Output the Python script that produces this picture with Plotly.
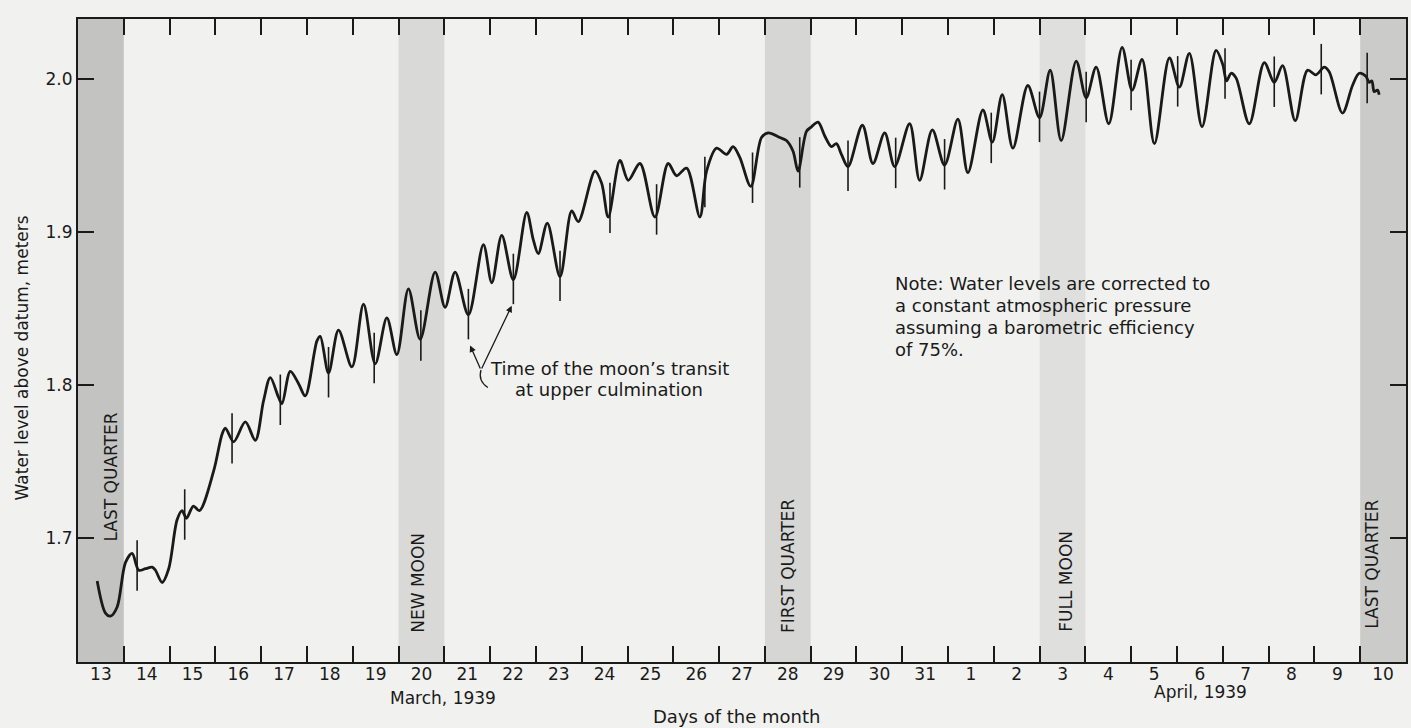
import numpy as np
import plotly.graph_objects as go

# ---------------- data (time = days elapsed since 00:00, 13 March 1939) ----------------
day_labels = ["13", "14", "15", "16", "17", "18", "19", "20", "21", "22", "23", "24", "25",
              "26", "27", "28", "29", "30", "31", "1", "2", "3", "4", "5", "6", "7", "8", "9", "10"]
day_boundaries = list(range(1, 29))
day_centers = [i + 0.5 for i in range(29)]

ytick_vals = [1.7, 1.8, 1.9, 2.0]
ytick_text = ["1.7", "1.8", "1.9", "2.0"]

# water level trace, week by week
t_week1 = [0.419, 0.600, 0.709, 0.855, 1.036, 1.182, 1.326, 1.473, 1.619, 1.691,
           1.837, 1.981, 2.164, 2.273, 2.367, 2.520, 2.651, 2.963, 3.146, 3.218,
           3.399, 3.654, 3.872, 4.053, 4.199, 4.380, 4.455, 4.636, 4.817, 4.963,
           5.218, 5.290, 5.471, 5.689, 5.982, 6.235, 6.490, 6.745, 6.963]
h_week1 = [1.672, 1.651, 1.649, 1.655, 1.684, 1.690, 1.679, 1.680, 1.681, 1.679,
           1.671, 1.680, 1.712, 1.718, 1.713, 1.721, 1.718, 1.744, 1.768, 1.772,
           1.763, 1.776, 1.764, 1.790, 1.805, 1.792, 1.788, 1.809, 1.801, 1.793,
           1.829, 1.832, 1.808, 1.836, 1.812, 1.853, 1.814, 1.844, 1.820]

t_week2 = [7.216, 7.472, 7.799, 8.017, 8.235, 8.525, 8.853, 9.036, 9.254, 9.507,
           9.799, 9.943, 10.052, 10.249, 10.526, 10.781, 10.925, 11.289, 11.436, 11.579,
           11.835, 12.016, 12.271, 12.598, 12.888, 13.071, 13.290, 13.580, 13.726, 13.944]
h_week2 = [1.863, 1.830, 1.874, 1.851, 1.874, 1.846, 1.892, 1.867, 1.898, 1.869,
           1.913, 1.895, 1.886, 1.906, 1.871, 1.914, 1.907, 1.940, 1.932, 1.910,
           1.947, 1.934, 1.945, 1.910, 1.945, 1.937, 1.942, 1.910, 1.940, 1.955]

t_week3 = [14.162, 14.306, 14.452, 14.692, 14.926, 15.070, 15.325, 15.471, 15.615, 15.724,
           15.908, 16.017, 16.161, 16.307, 16.453, 16.562, 16.671, 16.815, 17.129, 17.360,
           17.616, 17.834, 18.161, 18.379, 18.656, 18.924, 19.215, 19.433, 19.760, 19.965,
           20.183, 20.415, 20.742]
h_week3 = [1.951, 1.956, 1.949, 1.930, 1.962, 1.965, 1.962, 1.960, 1.953, 1.940,
           1.966, 1.969, 1.972, 1.963, 1.956, 1.958, 1.951, 1.943, 1.970, 1.945,
           1.965, 1.943, 1.971, 1.934, 1.967, 1.944, 1.974, 1.939, 1.980, 1.959,
           1.990, 1.955, 1.996]

t_week4 = [20.997, 21.230, 21.470, 21.798, 22.016, 22.234, 22.509, 22.801, 23.019, 23.237,
           23.506, 23.833, 24.051, 24.269, 24.546, 24.852, 24.996, 25.083, 25.179, 25.288,
           25.578, 25.905, 26.123, 26.305, 26.582, 26.850, 27.033, 27.214, 27.323, 27.613,
           27.832, 27.978, 28.124, 28.196, 28.255, 28.305, 28.377, 28.414]
h_week4 = [1.975, 2.006, 1.960, 2.012, 1.988, 2.008, 1.971, 2.021, 1.993, 2.013,
           1.958, 2.014, 1.995, 2.017, 1.969, 2.019, 2.010, 1.999, 2.004, 2.001,
           1.971, 2.011, 1.998, 2.009, 1.973, 2.006, 2.003, 2.008, 2.005, 1.978,
           1.996, 2.004, 2.002, 1.998, 1.999, 1.992, 1.993, 1.990]

# times of the moon's transit at upper culmination
transit_days = [1.291, 2.330, 3.364, 4.418, 5.471, 6.468, 7.487, 8.525, 9.507, 10.526,
                11.617, 12.635, 13.689, 14.730, 15.761, 16.815, 17.856, 18.924, 19.943,
                20.997, 22.016, 22.997, 24.014, 25.048, 26.123, 27.149, 28.152]

# lunar phases (band covers one day)
phase_names = ["LAST QUARTER", "NEW MOON", "FIRST QUARTER", "FULL MOON", "LAST QUARTER"]
phase_start = [0, 7, 15, 21, 28]
phase_end = [1, 8, 16, 22, 29]

note_lines = ["Note: Water levels are corrected to",
              "a constant atmospheric pressure",
              "assuming a barometric efficiency",
              "of 75%."]
transit_lines = ["Time of the moon\u2019s transit", "at upper culmination"]

# ---------------- styling ----------------
FONT = "DejaVu Sans"
INK = "#1a1a1a"
PAPER = "#f1f1ef"
band_colors = ["#c3c3c1", "#d9d9d7", "#d6d6d4", "#dfdfdd", "#cbcbc9"]
phase_label_x = [0.71, 7.43, 15.49, 21.57, 28.25]
phase_label_y = [1.740, 1.671, 1.682, 1.672, 1.683]
mark_up, mark_down = 0.017, 0.016

t_all = t_week1 + t_week2 + t_week3 + t_week4
h_all = h_week1 + h_week2 + h_week3 + h_week4

fig = go.Figure()

fig.add_trace(go.Scatter(
    x=t_all, y=h_all, mode="lines",
    line=dict(color=INK, width=2.8, shape="spline", smoothing=0.9),
    hoverinfo="skip", showlegend=False))

# transit marks
centers = np.interp(transit_days, t_all, h_all)
mx, my = [], []
for t, c in zip(transit_days, centers):
    mx += [t, t, None]
    my += [c + mark_up, c - mark_down, None]
fig.add_trace(go.Scatter(x=mx, y=my, mode="lines",
                         line=dict(color=INK, width=1.6),
                         hoverinfo="skip", showlegend=False))

# invisible trace on the label axis
fig.add_trace(go.Scatter(x=[0, 29], y=[1.7, 1.7], xaxis="x2", mode="markers",
                         marker=dict(opacity=0), hoverinfo="skip", showlegend=False))

shapes = []
for x0, x1, col in zip(phase_start, phase_end, band_colors):
    shapes.append(dict(type="rect", xref="x", yref="paper", x0=x0, x1=x1, y0=0, y1=1,
                       fillcolor=col, line=dict(width=0), layer="below"))
# bracket joining the two arrows
shapes.append(dict(type="path", xref="x", yref="y",
                   path="M 8.80,1.810 Q 8.73,1.803 8.95,1.7985",
                   line=dict(color=INK, width=1.3)))

annotations = []
for name, xx, yy in zip(phase_names, phase_label_x, phase_label_y):
    annotations.append(dict(x=xx, y=yy, xref="x", yref="y", text=name,
                            textangle=-90, showarrow=False,
                            xanchor="center", yanchor="middle",
                            font=dict(family=FONT, size=17, color=INK)))

# arrows
for hx, hy in [(8.562, 1.826), (9.472, 1.852)]:
    annotations.append(dict(x=hx, y=hy, ax=8.80, ay=1.810, xref="x", yref="y",
                            axref="x", ayref="y", text="", showarrow=True,
                            arrowhead=2, arrowsize=1.0, arrowwidth=1.3, arrowcolor=INK))

for i, line in enumerate(transit_lines):
    annotations.append(dict(x=0.40, y=0.457 - i * 0.0330, xref="paper", yref="paper",
                            text=line, showarrow=False, xanchor="center", yanchor="middle",
                            font=dict(family=FONT, size=18, color=INK)))

for i, line in enumerate(note_lines):
    annotations.append(dict(x=0.6135, y=0.5879 - i * 0.0342, xref="paper", yref="paper",
                            text=line, showarrow=False, xanchor="left", yanchor="middle",
                            font=dict(family=FONT, size=18, color=INK)))

annotations += [
    dict(x=-0.0425, y=0.473, xref="paper", yref="paper", text="Water level above datum, meters",
         textangle=-90, showarrow=False, xanchor="center", yanchor="middle",
         font=dict(family=FONT, size=17, color=INK)),
    dict(x=0.2749, y=-0.056, xref="paper", yref="paper", text="March, 1939",
         showarrow=False, xanchor="center", yanchor="middle",
         font=dict(family=FONT, size=17, color=INK)),
    dict(x=0.845, y=-0.0467, xref="paper", yref="paper", text="April, 1939",
         showarrow=False, xanchor="center", yanchor="middle",
         font=dict(family=FONT, size=17, color=INK)),
    dict(x=0.496, y=-0.0855, xref="paper", yref="paper", text="Days of the month",
         showarrow=False, xanchor="center", yanchor="middle",
         font=dict(family=FONT, size=18, color=INK)),
]

fig.update_layout(
    width=1411, height=728,
    margin=dict(l=78, r=5, t=19, b=66, autoexpand=False),
    paper_bgcolor=PAPER, plot_bgcolor=PAPER,
    font=dict(family=FONT, size=17, color=INK),
    showlegend=False,
    shapes=shapes, annotations=annotations,
    xaxis=dict(range=[0, 29], tickvals=day_boundaries, showticklabels=False,
               ticks="inside", ticklen=16, tickwidth=2, tickcolor=INK,
               showline=True, linewidth=2, linecolor=INK, mirror="ticks",
               showgrid=False, zeroline=False, automargin=False),
    xaxis2=dict(range=[0, 29], overlaying="x", side="bottom", anchor="y",
                tickvals=day_centers, ticktext=day_labels, ticks="",
                tickfont=dict(family=FONT, size=17, color=INK),
                showline=False, showgrid=False, zeroline=False, automargin=False),
    yaxis=dict(range=[1.619, 2.0395], tickvals=ytick_vals, ticktext=ytick_text,
               ticks="inside", ticklen=16, tickwidth=2, tickcolor=INK,
               tickfont=dict(family=FONT, size=17, color=INK),
               showline=True, linewidth=2, linecolor=INK, mirror="ticks",
               showgrid=False, zeroline=False, automargin=False),
)

fig.write_html("out.html",
               config={"displayModeBar": False},
               post_script="document.body.style.margin='0';"
                           "document.body.style.background='" + PAPER + "';")
